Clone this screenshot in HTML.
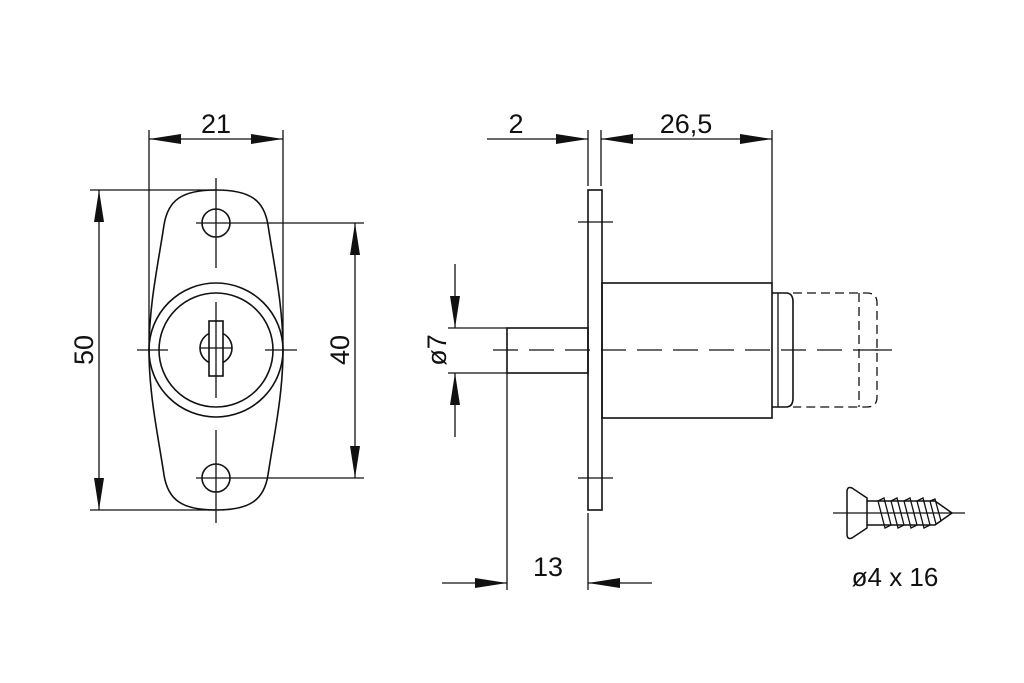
<!DOCTYPE html>
<html><head><meta charset="utf-8"><style>
html,body{margin:0;padding:0;background:#fff;}
svg{display:block;}
text{font-family:"Liberation Sans","DejaVu Sans",sans-serif;fill:#111;}
</style></head><body>
<svg width="1024" height="683" viewBox="0 0 1024 683" xmlns="http://www.w3.org/2000/svg">
<defs>
<marker id="a" viewBox="0 0 10 10" refX="10" refY="5" markerWidth="32" markerHeight="10" markerUnits="userSpaceOnUse" orient="auto-start-reverse" preserveAspectRatio="none"><path d="M0,0 L10,5 L0,10Z" fill="#111"/></marker>
</defs>
<g stroke="#111" stroke-width="1.3" fill="none">
<!-- LEFT VIEW -->
<path d="M216,190 C250,190 264,200 268,225 C274,265 283,305 283,350 C283,395 274,435 268,475 C264,500 250,510 216,510 C182,510 168,500 164,475 C158,435 149,395 149,350 C149,305 158,265 164,225 C168,200 182,190 216,190Z" stroke-width="1.6"/>
<circle cx="216" cy="223" r="14" stroke-width="1.6"/>
<circle cx="216" cy="478" r="14" stroke-width="1.6"/>
<circle cx="216" cy="350" r="67" stroke-width="1.6"/>
<circle cx="216" cy="350" r="57" stroke-width="1.6"/>
<circle cx="216" cy="348" r="16" stroke-width="1.6"/>
<rect x="209" y="321" width="14" height="55" fill="#fff" stroke-width="1.6"/>
<line x1="200" y1="348" x2="232" y2="348"/>
<!-- center lines -->
<line x1="216" y1="178" x2="216" y2="268"/>
<line x1="216" y1="302" x2="216" y2="398"/>
<line x1="216" y1="430" x2="216" y2="523"/>
<line x1="137" y1="350" x2="168" y2="350"/>
<line x1="265" y1="350" x2="297" y2="350"/>
<!-- 21 -->
<line x1="149" y1="130" x2="149" y2="340"/>
<line x1="283" y1="130" x2="283" y2="340"/>
<line x1="149" y1="139" x2="283" y2="139" marker-start="url(#a)" marker-end="url(#a)"/>
<!-- 50 -->
<line x1="90" y1="190" x2="216" y2="190"/>
<line x1="90" y1="510" x2="216" y2="510"/>
<line x1="99" y1="190" x2="99" y2="510" marker-start="url(#a)" marker-end="url(#a)"/>
<!-- 40 -->
<line x1="196" y1="223" x2="364" y2="223"/>
<line x1="196" y1="478" x2="364" y2="478"/>
<line x1="355" y1="223" x2="355" y2="478" marker-start="url(#a)" marker-end="url(#a)"/>

<!-- RIGHT VIEW -->
<rect x="588" y="190" width="14" height="320" stroke-width="1.6"/>
<rect x="602" y="283" width="170" height="135" stroke-width="1.6"/>
<path d="M772,293 L786,293 Q793,293 793,302 L793,398 Q793,407 786,407 L772,407" stroke-width="1.6"/>
<line x1="778" y1="293" x2="778" y2="407"/>
<path d="M793,293 L867,293 Q877,293 877,303 L877,397 Q877,407 867,407 L793,407" stroke-dasharray="9,5"/>
<line x1="859" y1="293" x2="859" y2="407" stroke-dasharray="9,5"/>
<rect x="507" y="328" width="81" height="45" stroke-width="1.6"/>
<line x1="493" y1="350" x2="878" y2="350" stroke-dasharray="25,11"/>
<line x1="875" y1="350" x2="892" y2="350"/>
<line x1="578" y1="222" x2="613" y2="222"/>
<line x1="578" y1="478" x2="613" y2="478"/>
<!-- 2 / 26,5 -->
<line x1="588" y1="130" x2="588" y2="186"/>
<line x1="601" y1="130" x2="601" y2="186"/>
<line x1="772" y1="130" x2="772" y2="283"/>
<line x1="487" y1="139" x2="588" y2="139" marker-end="url(#a)"/>
<line x1="601" y1="139" x2="772" y2="139" marker-start="url(#a)" marker-end="url(#a)"/>
<!-- ø7 -->
<line x1="448" y1="328" x2="507" y2="328"/>
<line x1="448" y1="373" x2="507" y2="373"/>
<line x1="455" y1="264" x2="455" y2="328" marker-end="url(#a)"/>
<line x1="455" y1="437" x2="455" y2="373" marker-end="url(#a)"/>
<!-- 13 -->
<line x1="507" y1="373" x2="507" y2="590"/>
<line x1="588" y1="513" x2="588" y2="590"/>
<line x1="442" y1="583" x2="507" y2="583" marker-end="url(#a)"/>
<line x1="652" y1="583" x2="588" y2="583" marker-end="url(#a)"/>

<!-- SCREW -->
<line x1="833" y1="513" x2="965" y2="513"/>
<path d="M867,498 L852,488 Q847,486 847,492 L847,534 Q847,540 852,538 L867,528 Z" stroke-width="1.5"/>
<path d="M867,501 L935,501 L952,513 L935,525 L867,525" stroke-width="1.5"/>
<path d="M878,501 L884,498 L891,525 L885,528 Z M891,501 L897,498 L904,525 L898,528 Z M904,501 L910,498 L917,525 L911,528 Z M917,501 L923,498 L930,525 L924,528 Z M930,501 L935,499 L941,521 L936,524 Z" stroke-width="1.3"/>
</g>
<text x="216" y="133" font-size="27" text-anchor="middle">21</text>
<text transform="translate(93,350) rotate(-90)" font-size="27" text-anchor="middle">50</text>
<text transform="translate(349,350) rotate(-90)" font-size="27" text-anchor="middle">40</text>
<text x="516" y="133" font-size="27" text-anchor="middle">2</text>
<text x="686" y="133" font-size="27" text-anchor="middle">26,5</text>
<text transform="translate(446,350) rotate(-90)" font-size="27" text-anchor="middle">ø7</text>
<text x="548" y="576" font-size="27" text-anchor="middle">13</text>
<text x="895" y="586" font-size="26" text-anchor="middle">ø4 x 16</text>
</svg>
</body></html>
